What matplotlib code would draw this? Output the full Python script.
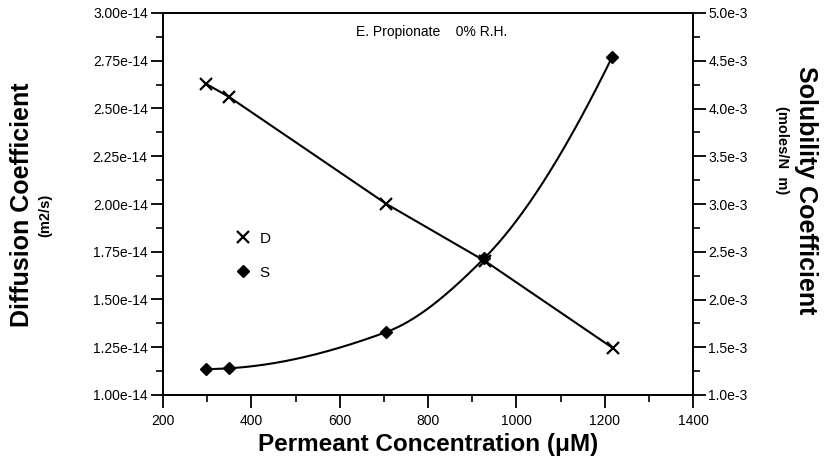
import numpy as np
import matplotlib
matplotlib.use("Agg")
import matplotlib.pyplot as plt
from matplotlib.lines import Line2D
from matplotlib.ticker import FixedLocator, MultipleLocator, FuncFormatter

plt.rcParams['font.family'] = ['Liberation Sans', 'DejaVu Sans']

# ---- data ----
conc = [297, 350, 706, 930, 1219]                       # permeant concentration (uM)
diffusion = [2.63e-14, 2.56e-14, 2.00e-14, 1.70e-14, 1.245e-14]   # m2/s
conc_s = [297, 350, 706, 927, 1217]
solubility = [1.27e-3, 1.28e-3, 1.66e-3, 2.43e-3, 4.54e-3]        # moles/N m

x_ticks = [200, 400, 600, 800, 1000, 1200, 1400]
left_ticks = [1.00e-14, 1.25e-14, 1.50e-14, 1.75e-14, 2.00e-14, 2.25e-14, 2.50e-14, 2.75e-14, 3.00e-14]
right_ticks = [1.0e-3, 1.5e-3, 2.0e-3, 2.5e-3, 3.0e-3, 3.5e-3, 4.0e-3, 4.5e-3, 5.0e-3]

title_text = "E. Propionate    0% R.H."
xlabel = "Permeant Concentration (\u03bcM)"
ylabel_left = "Diffusion Coefficient"
yunit_left = "(m2/s)"
ylabel_right = "Solubility Coefficient"
yunit_right = "(moles/N  m)"


def pchip(x, y, xs):
    x = np.asarray(x, float); y = np.asarray(y, float)
    h = np.diff(x); delta = np.diff(y) / h
    n = len(x)
    d = np.zeros(n)
    for k in range(1, n - 1):
        if delta[k - 1] * delta[k] > 0:
            w1 = 2 * h[k] + h[k - 1]
            w2 = h[k] + 2 * h[k - 1]
            d[k] = (w1 + w2) / (w1 / delta[k - 1] + w2 / delta[k])
    def end(h0, h1, d0, d1):
        v = ((2 * h0 + h1) * d0 - h0 * d1) / (h0 + h1)
        if np.sign(v) != np.sign(d0):
            v = 0.0
        elif np.sign(d0) != np.sign(d1) and abs(v) > abs(3 * d0):
            v = 3 * d0
        return v
    d[0] = end(h[0], h[1], delta[0], delta[1])
    d[-1] = end(h[-1], h[-2], delta[-1], delta[-2])
    idx = np.clip(np.searchsorted(x, xs) - 1, 0, n - 2)
    t = (xs - x[idx]) / h[idx]
    h00 = 2 * t**3 - 3 * t**2 + 1
    h10 = t**3 - 2 * t**2 + t
    h01 = -2 * t**3 + 3 * t**2
    h11 = t**3 - t**2
    return h00 * y[idx] + h10 * h[idx] * d[idx] + h01 * y[idx + 1] + h11 * h[idx] * d[idx + 1]


W, H = 824, 470
fig = plt.figure(figsize=(W / 100, H / 100), dpi=100)
L, R, T, B = 163, 693, 13, 395
ax = fig.add_axes([L / W, 1 - B / H, (R - L) / W, (B - T) / H])
ax2 = ax.twinx()

lw = 1.5
ax.plot(conc, diffusion, color='black', lw=lw, marker='x', ms=8, mew=1.6, zorder=3)

xs = np.linspace(conc_s[0], conc_s[-1], 400)
ax2.plot(xs, pchip(conc_s, solubility, xs), color='black', lw=lw, zorder=3)
ax2.plot(conc_s, solubility, ls='none', marker='D', ms=6.5, color='black', zorder=4)

ax.set_xlim(200, 1400)
ax.set_ylim(1.0e-14, 3.0e-14)
ax2.set_ylim(1.0e-3, 5.0e-3)

ax.xaxis.set_major_locator(FixedLocator(x_ticks))
ax.xaxis.set_minor_locator(MultipleLocator(100))
ax.yaxis.set_major_locator(FixedLocator(left_ticks))
ax.yaxis.set_minor_locator(MultipleLocator(0.125e-14))
ax2.yaxis.set_major_locator(FixedLocator(right_ticks))
ax2.yaxis.set_minor_locator(MultipleLocator(0.25e-3))

def fmt_left(v, pos):
    m, e = f"{v:.2e}".split('e')
    return f"{m}e{int(e)}"

def fmt_right(v, pos):
    m, e = f"{v:.1e}".split('e')
    return f"{m}e{int(e)}"

ax.yaxis.set_major_formatter(FuncFormatter(fmt_left))
ax2.yaxis.set_major_formatter(FuncFormatter(fmt_right))
ax.xaxis.set_major_formatter(FuncFormatter(lambda v, p: f"{int(v)}"))

for a in (ax, ax2):
    a.tick_params(which='major', length=9, width=1.3, direction='out', labelsize=10, pad=3)
    a.tick_params(which='minor', length=5, width=1.2, direction='out')
    for s in a.spines.values():
        s.set_linewidth(1.3)
ax.tick_params(axis='x', pad=5)
ax.tick_params(axis='y', pad=2)
ax2.tick_params(axis='y', pad=2)

ax.text(0.506, 0.95, title_text, transform=ax.transAxes, ha='center', va='center', fontsize=10)

handles = [Line2D([], [], ls='none', marker='x', ms=8, mew=1.6, color='black'),
           Line2D([], [], ls='none', marker='D', ms=6.5, color='black')]
ax.legend(handles, ['D', 'S'], frameon=False, loc='center left',
          bbox_to_anchor=(0.11, 0.365), handlelength=1.0, handletextpad=0.6,
          labelspacing=1.3, fontsize=11)

fig.text(428 / W, 1 - 445 / H, xlabel, ha='center', va='center', fontsize=17.5, fontweight='bold')
fig.text(22 / W, 1 - 205 / H, ylabel_left, ha='center', va='center', rotation=90,
         fontsize=18, fontweight='bold')
fig.text(45 / W, 1 - 215 / H, yunit_left, ha='center', va='center', rotation=90,
         fontsize=10.5, fontweight='bold')
fig.text(806 / W, 1 - 190 / H, ylabel_right, ha='center', va='center', rotation=270,
         fontsize=18, fontweight='bold')
fig.text(782 / W, 1 - 150 / H, yunit_right, ha='center', va='center', rotation=270,
         fontsize=10.5, fontweight='bold')

fig.savefig("out.png", dpi=100)
